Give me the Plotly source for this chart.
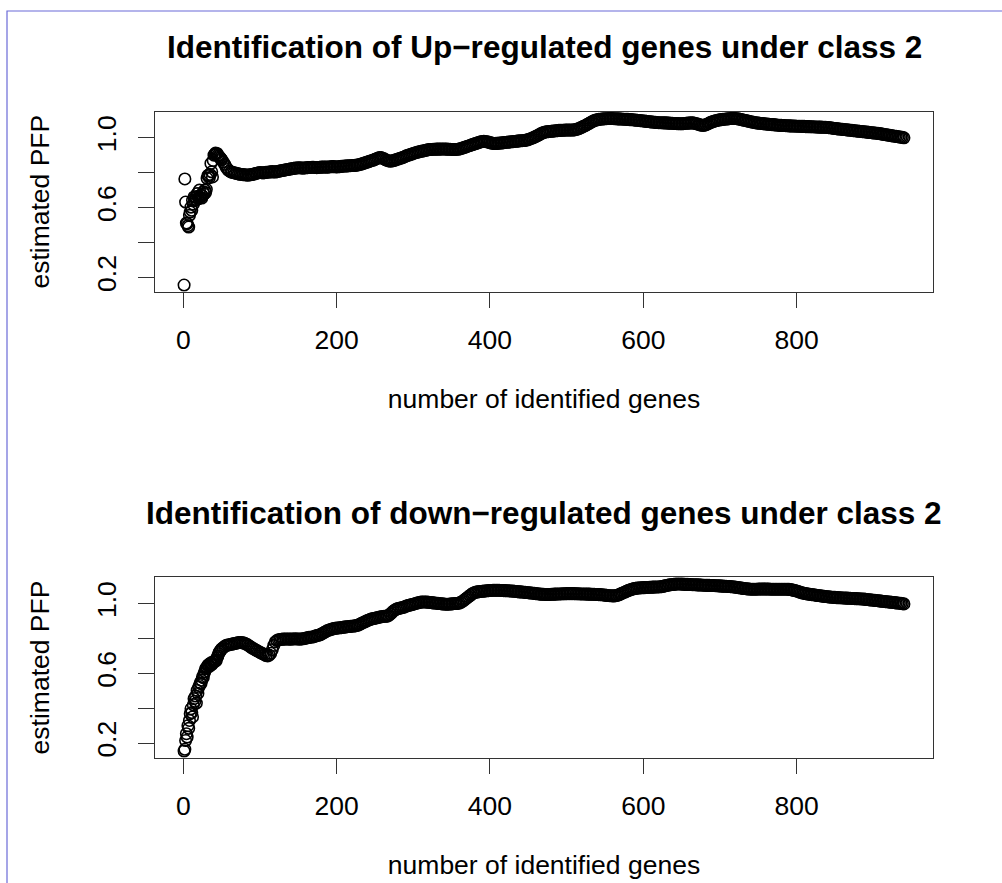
import plotly.graph_objects as go

# Estimated PFP along the ranked gene list (class 2).
# Genes 1-49 are listed one by one; beyond that every second gene.
up_genes = list(range(1, 50)) + list(range(50, 941, 2))
up_pfp = [
    0.157, 0.764, 0.632, 0.512, 0.508, 0.497, 0.489, 0.556, 0.575, 0.603,
    0.585, 0.642, 0.620, 0.661, 0.640, 0.660, 0.645, 0.680, 0.665, 0.652,
    0.700, 0.660, 0.672, 0.655, 0.668, 0.690, 0.678, 0.700, 0.686, 0.705,
    0.768, 0.783, 0.786, 0.772, 0.790, 0.853, 0.805, 0.776, 0.870, 0.900,
    0.905, 0.912, 0.908, 0.910, 0.900, 0.895, 0.890, 0.885, 0.880,
    # 50 .. 928
    0.875, 0.862, 0.848, 0.830, 0.818, 0.810, 0.805, 0.802, 0.800, 0.798,
    0.795, 0.793, 0.791, 0.790, 0.789, 0.788, 0.787, 0.786, 0.787, 0.789,
    0.790, 0.792, 0.795, 0.797, 0.800, 0.801, 0.800, 0.799, 0.800, 0.802,
    0.803, 0.804, 0.805, 0.806, 0.805, 0.804, 0.806, 0.808, 0.810, 0.812,
    0.813, 0.815, 0.817, 0.818, 0.820, 0.822, 0.823, 0.825, 0.826, 0.827,
    0.828, 0.828, 0.827, 0.826, 0.827, 0.828, 0.829, 0.830, 0.830, 0.831,
    0.831, 0.830, 0.829, 0.830, 0.831, 0.832, 0.832, 0.833, 0.832, 0.832,
    0.833, 0.834, 0.835, 0.835, 0.834, 0.833, 0.834, 0.835, 0.836, 0.837,
    0.838, 0.838, 0.839, 0.840, 0.840, 0.841, 0.841, 0.842, 0.843, 0.845,
    0.847, 0.849, 0.852, 0.855, 0.858, 0.861, 0.864, 0.867, 0.870, 0.872,
    0.876, 0.880, 0.884, 0.887, 0.886, 0.883, 0.879, 0.874, 0.870, 0.867,
    0.866, 0.867, 0.869, 0.872, 0.875, 0.878, 0.881, 0.884, 0.887, 0.890,
    0.895, 0.898, 0.901, 0.904, 0.907, 0.910, 0.913, 0.916, 0.918, 0.920,
    0.922, 0.924, 0.926, 0.928, 0.930, 0.932, 0.933, 0.933, 0.934, 0.934,
    0.935, 0.935, 0.935, 0.935, 0.936, 0.936, 0.935, 0.935, 0.934, 0.934,
    0.933, 0.933, 0.933, 0.933, 0.934, 0.936, 0.938, 0.941, 0.944, 0.947,
    0.950, 0.953, 0.956, 0.959, 0.962, 0.965, 0.968, 0.971, 0.974, 0.977,
    0.979, 0.980, 0.979, 0.977, 0.975, 0.972, 0.970, 0.968, 0.967, 0.968,
    0.968, 0.969, 0.970, 0.971, 0.972, 0.973, 0.974, 0.975, 0.976, 0.977,
    0.978, 0.979, 0.980, 0.981, 0.982, 0.983, 0.983, 0.984, 0.985, 0.987,
    0.990, 0.993, 0.996, 1.000, 1.004, 1.008, 1.012, 1.017, 1.022, 1.027,
    1.030, 1.033, 1.034, 1.035, 1.036, 1.037, 1.038, 1.039, 1.040, 1.041,
    1.042, 1.042, 1.043, 1.043, 1.044, 1.044, 1.044, 1.044, 1.044, 1.044,
    1.045, 1.047, 1.050, 1.053, 1.057, 1.061, 1.065, 1.069, 1.074, 1.079,
    1.084, 1.089, 1.094, 1.098, 1.101, 1.103, 1.105, 1.106, 1.107, 1.108,
    1.109, 1.109, 1.110, 1.110, 1.110, 1.110, 1.109, 1.109, 1.108, 1.108,
    1.107, 1.107, 1.106, 1.106, 1.105, 1.105, 1.104, 1.104, 1.103, 1.102,
    1.101, 1.100, 1.099, 1.098, 1.097, 1.096, 1.095, 1.094, 1.093, 1.092,
    1.091, 1.090, 1.089, 1.088, 1.087, 1.086, 1.086, 1.086, 1.085, 1.085,
    1.085, 1.084, 1.084, 1.083, 1.083, 1.082, 1.082, 1.081, 1.081, 1.080,
    1.080, 1.081, 1.082, 1.083, 1.084, 1.084, 1.085, 1.085, 1.084, 1.082,
    1.080, 1.077, 1.074, 1.072, 1.071, 1.072, 1.075, 1.079, 1.084, 1.088,
    1.091, 1.094, 1.097, 1.099, 1.101, 1.103, 1.104, 1.105, 1.106, 1.107,
    1.108, 1.109, 1.110, 1.111, 1.111, 1.110, 1.109, 1.108, 1.106, 1.104,
    1.102, 1.100, 1.098, 1.096, 1.094, 1.092, 1.090, 1.088, 1.086, 1.085,
    1.084, 1.083, 1.082, 1.081, 1.080, 1.079, 1.078, 1.077, 1.076, 1.075,
    1.075, 1.074, 1.073, 1.072, 1.071, 1.071, 1.070, 1.070, 1.069, 1.069,
    1.068, 1.068, 1.067, 1.067, 1.067, 1.066, 1.066, 1.066, 1.065, 1.065,
    1.065, 1.064, 1.064, 1.064, 1.063, 1.063, 1.063, 1.062, 1.062, 1.061,
    1.061, 1.061, 1.060, 1.060, 1.060, 1.059, 1.058, 1.057, 1.056, 1.054,
    1.053, 1.052, 1.051, 1.050, 1.049, 1.048, 1.047, 1.046, 1.045, 1.044,
    1.043, 1.042, 1.041, 1.040, 1.039, 1.038, 1.037, 1.036, 1.035, 1.034,
    1.033, 1.032, 1.031, 1.030, 1.029, 1.028, 1.027, 1.026, 1.025, 1.024,
    1.022, 1.021, 1.019, 1.018, 1.016, 1.015, 1.013, 1.012, 1.010, 1.009,
    # 930 .. 940
    1.008, 1.006, 1.005, 1.003, 1.002, 1.000,
]

down_genes = list(range(1, 50)) + list(range(50, 941, 2))
down_pfp = [
    0.155, 0.165, 0.215, 0.254, 0.235, 0.300, 0.285, 0.330, 0.369, 0.397,
    0.375, 0.350, 0.420, 0.455, 0.440, 0.470, 0.430, 0.502, 0.485, 0.520,
    0.530, 0.545, 0.541, 0.560, 0.580, 0.575, 0.598, 0.610, 0.625, 0.630,
    0.636, 0.645, 0.650, 0.640, 0.655, 0.660, 0.650, 0.656, 0.665, 0.668,
    0.672, 0.670, 0.675, 0.690, 0.700, 0.712, 0.722, 0.728, 0.735,
    # 50 .. 928
    0.740, 0.748, 0.755, 0.760, 0.762, 0.764, 0.766, 0.768, 0.770, 0.772,
    0.774, 0.776, 0.777, 0.776, 0.775, 0.772, 0.768, 0.763, 0.757, 0.750,
    0.745, 0.740, 0.735, 0.730, 0.725, 0.720, 0.716, 0.712, 0.707, 0.702,
    0.700, 0.705, 0.715, 0.735, 0.760, 0.780, 0.788, 0.792, 0.794, 0.795,
    0.796, 0.796, 0.797, 0.797, 0.796, 0.796, 0.797, 0.797, 0.798, 0.797,
    0.797, 0.796, 0.797, 0.798, 0.800, 0.802, 0.804, 0.806, 0.807, 0.808,
    0.810, 0.813, 0.816, 0.818, 0.821, 0.825, 0.830, 0.835, 0.840, 0.845,
    0.848, 0.851, 0.854, 0.856, 0.858, 0.859, 0.860, 0.861, 0.862, 0.864,
    0.865, 0.866, 0.867, 0.868, 0.869, 0.870, 0.871, 0.872, 0.874, 0.877,
    0.881, 0.885, 0.890, 0.894, 0.898, 0.902, 0.906, 0.909, 0.912, 0.914,
    0.916, 0.918, 0.920, 0.922, 0.924, 0.926, 0.927, 0.927, 0.928, 0.932,
    0.940, 0.948, 0.956, 0.963, 0.968, 0.971, 0.973, 0.975, 0.977, 0.980,
    0.984, 0.987, 0.990, 0.992, 0.994, 0.996, 0.999, 1.002, 1.004, 1.006,
    1.008, 1.009, 1.009, 1.009, 1.008, 1.007, 1.006, 1.005, 1.004, 1.003,
    1.002, 1.001, 1.000, 0.999, 0.998, 0.997, 0.996, 0.996, 0.996, 0.997,
    0.998, 0.999, 1.000, 1.000, 1.001, 1.003, 1.007, 1.012, 1.018, 1.025,
    1.032, 1.039, 1.046, 1.053, 1.059, 1.063, 1.066, 1.067, 1.068, 1.069,
    1.070, 1.071, 1.072, 1.073, 1.074, 1.075, 1.075, 1.076, 1.076, 1.076,
    1.076, 1.076, 1.075, 1.075, 1.074, 1.074, 1.073, 1.073, 1.072, 1.072,
    1.071, 1.070, 1.069, 1.068, 1.067, 1.067, 1.066, 1.065, 1.064, 1.063,
    1.062, 1.061, 1.060, 1.059, 1.058, 1.057, 1.056, 1.055, 1.054, 1.053,
    1.053, 1.052, 1.052, 1.052, 1.052, 1.053, 1.053, 1.054, 1.054, 1.055,
    1.055, 1.055, 1.056, 1.056, 1.056, 1.057, 1.057, 1.057, 1.057, 1.057,
    1.057, 1.056, 1.056, 1.056, 1.055, 1.055, 1.055, 1.055, 1.054, 1.054,
    1.054, 1.053, 1.053, 1.053, 1.052, 1.052, 1.051, 1.051, 1.050, 1.049,
    1.048, 1.047, 1.046, 1.045, 1.045, 1.044, 1.044, 1.045, 1.047, 1.050,
    1.054, 1.058, 1.062, 1.066, 1.070, 1.074, 1.077, 1.080, 1.083, 1.086,
    1.087, 1.088, 1.089, 1.090, 1.090, 1.091, 1.091, 1.092, 1.092, 1.093,
    1.093, 1.094, 1.094, 1.095, 1.095, 1.095, 1.096, 1.097, 1.099, 1.101,
    1.103, 1.105, 1.107, 1.108, 1.109, 1.110, 1.111, 1.112, 1.112, 1.112,
    1.111, 1.111, 1.110, 1.110, 1.110, 1.109, 1.109, 1.108, 1.108, 1.108,
    1.107, 1.107, 1.106, 1.106, 1.105, 1.105, 1.104, 1.104, 1.104, 1.103,
    1.103, 1.103, 1.102, 1.102, 1.101, 1.101, 1.100, 1.100, 1.099, 1.099,
    1.098, 1.098, 1.097, 1.096, 1.095, 1.094, 1.092, 1.091, 1.090, 1.088,
    1.087, 1.086, 1.085, 1.084, 1.083, 1.082, 1.082, 1.082, 1.082, 1.082,
    1.083, 1.083, 1.083, 1.083, 1.083, 1.083, 1.083, 1.083, 1.082, 1.082,
    1.082, 1.082, 1.082, 1.082, 1.082, 1.082, 1.082, 1.082, 1.082, 1.082,
    1.081, 1.080, 1.078, 1.076, 1.074, 1.072, 1.069, 1.066, 1.063, 1.060,
    1.058, 1.057, 1.055, 1.054, 1.052, 1.051, 1.050, 1.049, 1.047, 1.046,
    1.045, 1.044, 1.042, 1.041, 1.040, 1.039, 1.038, 1.037, 1.036, 1.035,
    1.035, 1.034, 1.034, 1.033, 1.033, 1.032, 1.032, 1.031, 1.031, 1.030,
    1.030, 1.029, 1.029, 1.028, 1.028, 1.027, 1.027, 1.026, 1.026, 1.025,
    1.024, 1.023, 1.022, 1.021, 1.020, 1.019, 1.018, 1.017, 1.016, 1.015,
    1.014, 1.013, 1.012, 1.011, 1.010, 1.009, 1.008, 1.007, 1.006, 1.005,
    # 930 .. 940
    1.004, 1.003, 1.002, 1.001, 0.999, 0.998,
]

assert len(up_pfp) == len(up_genes)
assert len(down_pfp) == len(down_genes)

titles = [
    "Identification of Up\u2212regulated genes under class 2",
    "Identification of down\u2212regulated genes under class 2",
]
x_label = "number of identified genes"
y_label = "estimated PFP"
x_ticks = [0, 200, 400, 600, 800]
y_ticks = [0.2, 0.4, 0.6, 0.8, 1.0]
y_ticktext = ["0.2", "", "0.6", "", "1.0"]

W, H = 1002, 883
FONT = "Liberation Sans, Arial, Helvetica, sans-serif"
INK = "#000000"
FRAME = "#333333"


def padded(values, frac=0.04):
    lo, hi = min(values), max(values)
    pad = (hi - lo) * frac
    return [lo - pad, hi + pad]


# panel boxes in pixels: (left, top, right, bottom)
panels = [(155.3, 111.7, 932.7, 291.7), (155.3, 577.3, 932.7, 757.7)]
series = [(up_genes, up_pfp), (down_genes, down_pfp)]

fig = go.Figure()
layout = dict(
    width=W, height=H,
    margin=dict(l=0, r=0, t=0, b=0),
    paper_bgcolor="white", plot_bgcolor="white",
    showlegend=False,
    font=dict(family=FONT, color="black", size=26.5),
    annotations=[], shapes=[],
)

for i, ((gx, gy), (l, t, r, b)) in enumerate(zip(series, panels), start=1):
    xa = "x" if i == 1 else f"x{i}"
    ya = "y" if i == 1 else f"y{i}"
    fig.add_trace(go.Scatter(
        x=gx, y=gy, mode="markers", xaxis=xa, yaxis=ya,
        marker=dict(symbol="circle-open", size=11.5, color=INK,
                    line=dict(width=1.6, color=INK)),
        hoverinfo="skip",
    ))
    axis_common = dict(
        showline=True, mirror=True, linecolor=FRAME, linewidth=1.2,
        ticks="outside", tickcolor=FRAME, tickwidth=1.2,
        showgrid=False, zeroline=False, automargin=False,
        tickfont=dict(family=FONT, size=26.5, color="black"),
    )
    layout[f"xaxis{'' if i == 1 else i}"] = dict(
        axis_common, domain=[l / W, r / W], anchor=ya,
        range=padded(gx), tickmode="array", tickvals=x_ticks, ticklen=15,
        ticklabelstandoff=9,
        title=dict(text=x_label, standoff=35,
                   font=dict(family=FONT, size=26.5, color="black")),
    )
    layout[f"yaxis{'' if i == 1 else i}"] = dict(
        axis_common, domain=[1 - b / H, 1 - t / H], anchor=xa,
        range=padded(gy), tickmode="array", tickvals=y_ticks,
        ticktext=y_ticktext, tickangle=-90, ticklen=16,
        ticklabelstandoff=12,
        title=dict(text=y_label, standoff=34,
                   font=dict(family=FONT, size=26.5, color="black")),
    )
    layout["annotations"].append(dict(
        text="<b>" + titles[i - 1] + "</b>", xref="paper", yref="paper",
        x=(l + r) / 2 / W, y=1 - (t - 64.5) / H,
        xanchor="center", yanchor="middle", showarrow=False,
        font=dict(family=FONT, size=31.5, color="black"),
    ))

# thin outer frame running along the left and top of the page
layout["shapes"].append(dict(
    type="rect", xref="paper", yref="paper",
    x0=7 / W, x1=1.2, y0=-0.2, y1=1 - 11 / H,
    line=dict(color="#6a6ad8", width=1.2), layer="below",
))

fig.update_layout(**layout)
fig.write_html("out.html", config={"displayModeBar": False})
